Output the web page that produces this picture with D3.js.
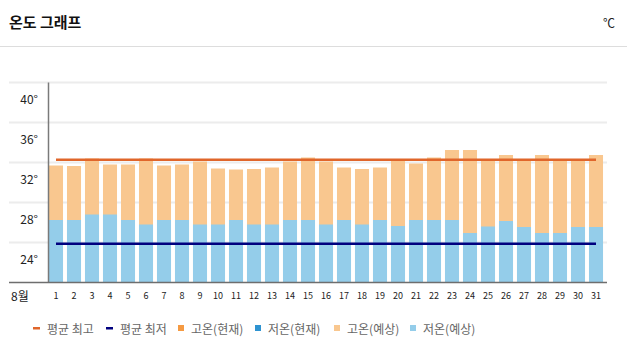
<!DOCTYPE html>
<html><head><meta charset="utf-8">
<script src="https://cdn.jsdelivr.net/npm/d3@7"></script>
<style>
body{margin:0;background:#fff;}
svg{display:block;font-family:"Noto Sans CJK KR","Noto Sans",sans-serif;}
</style></head>
<body>
<svg id="c" width="627" height="356"></svg>
<script>
const days = d3.range(1, 32).map(String);
const highs = [31.7,31.65,32.4,31.8,31.8,32.4,31.7,31.8,32.1,31.4,31.3,31.35,31.5,32.1,32.5,32.1,31.5,31.35,31.5,32.3,31.9,32.5,33.25,33.25,32.25,32.75,32.25,32.75,32.25,32.25,32.75];
const lows = [26.25,26.25,26.8,26.8,26.25,25.8,26.25,26.25,25.8,25.8,26.25,25.8,25.8,26.25,26.25,25.8,26.25,25.8,26.25,25.65,26.25,26.25,26.25,24.95,25.6,26.15,25.55,24.95,24.95,25.55,25.55];
const avgHigh = 32.28;
const avgLow = 23.88;
const yTicks = [24, 28, 32, 36, 40];
const legendItems = [
  {label:"평균 최고", type:"line", color:"#E0662B"},
  {label:"평균 최저", type:"line", color:"#00007F"},
  {label:"고온(현재)", type:"rect", color:"#F59A42"},
  {label:"저온(현재)", type:"rect", color:"#2E93D1"},
  {label:"고온(예상)", type:"rect", color:"#F9C78F"},
  {label:"저온(예상)", type:"rect", color:"#94CDEA"}
];
const legendX = [33, 106, 178, 255, 334, 410];

const svg = d3.select("#c");
const x = d3.scaleBand().domain(days).range([47, 605]).paddingInner(0.22).paddingOuter(0.11);
const y = d3.scaleLinear().domain([20, 40]).range([282.5, 82.5]);

// title
svg.append("text").attr("x", 9).attr("y", 28).attr("font-size", 15).attr("font-weight", "bold").attr("fill", "#111").text("온도 그래프");
svg.append("text").attr("x", 603).attr("y", 28).attr("font-size", 12).attr("fill", "#222").text("℃");
svg.append("line").attr("x1", 0).attr("x2", 627).attr("y1", 46.5).attr("y2", 46.5).attr("stroke", "#ddd").attr("stroke-width", 1);

// gridlines
svg.append("g").selectAll("line").data(yTicks).join("line")
  .attr("x1", 9).attr("x2", 607).attr("y1", d => y(d)).attr("y2", d => y(d))
  .attr("stroke", "#ececec").attr("stroke-width", 2);

// y labels
svg.append("g").selectAll("text").data(yTicks).join("text")
  .attr("x", 38).attr("y", d => y(d) + 16).attr("text-anchor", "end").attr("dominant-baseline", "central")
  .attr("font-size", 12).attr("fill", "#222").text(d => d + "°");

// bars
const bars = svg.append("g");
bars.selectAll("rect.hi").data(days).join("rect").attr("class", "hi")
  .attr("x", d => x(d)).attr("width", x.bandwidth())
  .attr("y", (d, i) => y(highs[i])).attr("height", (d, i) => y(20) - y(highs[i]))
  .attr("fill", "#F9C78F");
bars.selectAll("rect.lo").data(days).join("rect").attr("class", "lo")
  .attr("x", d => x(d)).attr("width", x.bandwidth())
  .attr("y", (d, i) => y(lows[i])).attr("height", (d, i) => y(20) - y(lows[i]))
  .attr("fill", "#94CDEA");

// avg lines
const xc = d => x(d) + x.bandwidth() / 2;
svg.append("line").attr("x1", xc("1")).attr("x2", xc("31")).attr("y1", y(avgHigh)).attr("y2", y(avgHigh))
  .attr("stroke", "#E0662B").attr("stroke-width", 2.5);
svg.append("line").attr("x1", xc("1")).attr("x2", xc("31")).attr("y1", y(avgLow)).attr("y2", y(avgLow))
  .attr("stroke", "#00007F").attr("stroke-width", 2.5);

// axes lines
svg.append("line").attr("x1", 48.5).attr("x2", 48.5).attr("y1", 82.5).attr("y2", 282.5).attr("stroke", "#7a7a7a").attr("stroke-width", 1.5);
svg.append("line").attr("x1", 9).attr("x2", 607).attr("y1", 282.5).attr("y2", 282.5).attr("stroke", "#6e6e6e").attr("stroke-width", 1.5);

// x labels
svg.append("g").selectAll("text").data(days).join("text")
  .attr("x", d => xc(d)).attr("y", 295).attr("text-anchor", "middle").attr("dominant-baseline", "central")
  .attr("font-size", 9).attr("fill", "#222").text(d => d);
svg.append("text").attr("x", 11).attr("y", 295).attr("dominant-baseline", "central")
  .attr("font-size", 12).attr("fill", "#222").text("8월");

// legend
const lg = svg.append("g").selectAll("g").data(legendItems).join("g")
  .attr("transform", (d, i) => `translate(${legendX[i]},328)`);
lg.filter(d => d.type === "line").append("rect").attr("x", 0).attr("y", -1).attr("width", 7).attr("height", 2.5).attr("fill", d => d.color);
lg.filter(d => d.type === "rect").append("rect").attr("x", 0).attr("y", -3).attr("width", 6).attr("height", 6).attr("fill", d => d.color);
lg.append("text").attr("x", (d) => d.type === "line" ? 14 : 13).attr("y", 0).attr("dominant-baseline", "central")
  .attr("font-size", 12).attr("fill", "#666").text(d => d.label);
</script>
</body></html>
